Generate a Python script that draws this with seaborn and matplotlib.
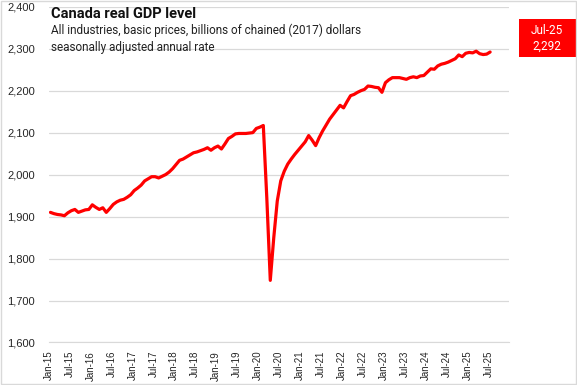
import numpy as np
import pandas as pd
import matplotlib
matplotlib.use('Agg')
import matplotlib.pyplot as plt
import seaborn as sns
from matplotlib.patches import Rectangle

# Canada real GDP, billions of chained (2017) dollars, monthly values
gdp_2015 = [1910, 1907, 1905, 1904, 1902, 1909, 1914, 1917, 1910, 1913, 1916, 1917]
gdp_2016 = [1928, 1922, 1917, 1921, 1910, 1919, 1929, 1935, 1939, 1941, 1946, 1952]
gdp_2017 = [1962, 1968, 1975, 1985, 1990, 1995, 1995, 1992, 1996, 2000, 2006, 2014]
gdp_2018 = [2024, 2034, 2037, 2042, 2047, 2052, 2054, 2057, 2060, 2064, 2058, 2064]
gdp_2019 = [2068, 2061, 2073, 2086, 2091, 2097, 2098, 2098, 2098, 2099, 2100, 2110]
gdp_2020 = [2113, 2117, 1945, 1748, 1850, 1937, 1985, 2008, 2025, 2037, 2048, 2058]
gdp_2021 = [2068, 2078, 2093, 2082, 2069, 2088, 2104, 2118, 2132, 2143, 2154, 2165]
gdp_2022 = [2159, 2174, 2188, 2191, 2196, 2200, 2203, 2211, 2210, 2208, 2207, 2196]
gdp_2023 = [2219, 2226, 2231, 2231, 2231, 2229, 2227, 2231, 2233, 2231, 2235, 2236]
gdp_2024 = [2244, 2252, 2251, 2259, 2263, 2265, 2268, 2272, 2276, 2285, 2281, 2289]
gdp_2025 = [2291, 2290, 2294, 2288, 2286, 2287, 2292]

gdp = (gdp_2015 + gdp_2016 + gdp_2017 + gdp_2018 + gdp_2019 + gdp_2020
       + gdp_2021 + gdp_2022 + gdp_2023 + gdp_2024 + gdp_2025)

title = 'Canada real GDP level'
subtitle = ['All industries, basic prices, billions of chained (2017) dollars',
            'seasonally adjusted annual rate']
y_ticks = [1600, 1700, 1800, 1900, 2000, 2100, 2200, 2300, 2400]

dates = pd.date_range('2015-01-01', periods=len(gdp), freq='MS')
df = pd.DataFrame({'date': dates, 'gdp': gdp})
df['pos'] = np.arange(len(df)) + 0.5  # categories sit between tick marks

# axis runs Jan-15 to Jan-26, labels every 6 months up to Jul-25
n_months = 132
tick_pos = list(range(0, n_months + 1, 6))
tick_labels = [d.strftime('%b-%y') for d in pd.date_range('2015-01-01', '2025-07-01', freq='6MS')] + ['']

sns.set_style('white')
plt.rcParams['font.family'] = ['Liberation Sans', 'DejaVu Sans']

fig = plt.figure(figsize=(5.77, 3.85), dpi=100)
ax = fig.add_axes([0.0844, 0.1104, 0.7983, 0.8722])

sns.lineplot(data=df, x='pos', y='gdp', color='#ff0000', linewidth=2.3, ax=ax)

ax.set_xlim(0, n_months)
ax.set_ylim(1600, 2400)
ax.set_yticks(y_ticks)
ax.set_yticklabels([f'{v:,}' for v in y_ticks])
ax.set_xticks(tick_pos)
ax.set_xticklabels(tick_labels, rotation=90)
ax.grid(axis='y', color='#d9d9d9', linewidth=0.9)
ax.set_axisbelow(True)
for side in ['left', 'right', 'top']:
    ax.spines[side].set_visible(False)
ax.spines['bottom'].set_color('#d9d9d9')
ax.tick_params(axis='x', length=4, color='#d9d9d9', labelsize=7, pad=2, labelcolor='#262626')
ax.tick_params(axis='y', length=0, labelsize=8, pad=10, labelcolor='#262626')
ax.set_xlabel('')
ax.set_ylabel('')

# titles
fig.text(51 / 577, 1 - 14 / 385, title, fontsize=10.5, fontweight='bold',
         family=['Roboto', 'DejaVu Sans'], va='center', color='#111111')
fig.text(51 / 577, 1 - 30 / 385, subtitle[0], fontsize=8.5,
         family=['Roboto', 'DejaVu Sans'], va='center', color='#222222')
fig.text(51 / 577, 1 - 47 / 385, subtitle[1], fontsize=8.5,
         family=['Roboto', 'DejaVu Sans'], va='center', color='#222222')

# latest value box
fig.patches.append(Rectangle((519 / 577, 1 - 57 / 385), 57 / 577, 38 / 385,
                             transform=fig.transFigure, facecolor='#ff0000', edgecolor='none'))
last = df.iloc[-1]
fig.text(547 / 577, 1 - 38 / 385, f"{last['date'].strftime('%b-%y')}\n{int(last['gdp']):,}",
         fontsize=8.5, family=['Roboto', 'DejaVu Sans'], color='white',
         ha='center', va='center', linespacing=1.3)

# light border round the chart
fig.patches.append(Rectangle((0.001, 0.002), 0.997, 0.995, transform=fig.transFigure,
                             fill=False, edgecolor='#d9d9d9', linewidth=1))

fig.savefig('out.png', dpi=100)
